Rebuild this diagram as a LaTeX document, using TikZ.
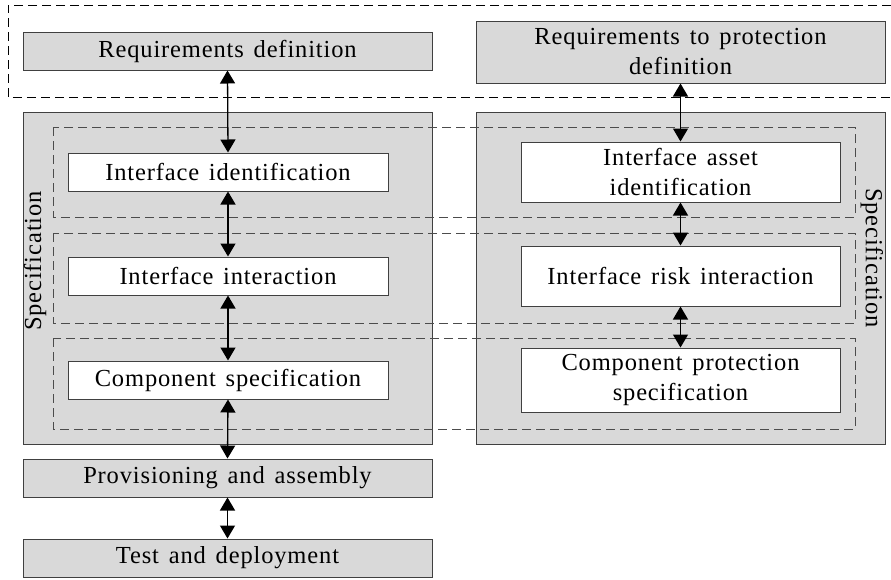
\documentclass[tikz,border=0pt]{standalone}
\usepackage{fontspec}
\setmainfont{Liberation Serif}[LetterSpace=3.5,WordSpace=1.4]
\usetikzlibrary{arrows.meta}
\definecolor{boxfill}{gray}{0.85}
\definecolor{edge}{gray}{0.25}
\definecolor{groupline}{gray}{0.3}
\begin{document}
\begin{tikzpicture}[x=1pt,y=-1pt,
  every node/.style={font=\fontsize{24.5}{30}\selectfont, inner sep=0pt, align=center},
  graybox/.style={draw=edge, line width=1pt, fill=boxfill, rectangle, minimum width=409pt},
  whitebox/.style={draw=edge, line width=1pt, fill=white, rectangle},
  group/.style={draw=groupline, line width=1pt, dash pattern=on 9pt off 5pt},
  outergroup/.style={draw=black, line width=1pt, dash pattern=on 9pt off 5pt},
  link/.style={draw=black, line width=1.3pt,
    {Triangle[length=13pt,width=15pt]}-{Triangle[length=13pt,width=15pt]}},
  sidelabel/.style={font=\fontsize{24.5}{30}\selectfont}]
\useasboundingbox (0,0) rectangle (891,579);

% gray process stages
\node[graybox, minimum height=38pt] (reqdef) at (227.5,51) {Requirements definition};
\node[graybox, minimum height=62pt] (reqprot) at (680.5,52) {Requirements to protection\\definition};
\node[graybox, minimum height=332pt] (specL) at (227.5,278) {};
\node[graybox, minimum height=332pt] (specR) at (680.5,278) {};
\node[graybox, minimum height=38pt] (prov) at (227.5,478) {Provisioning and assembly};
\node[graybox, minimum height=38pt] (test) at (227.5,558) {Test and deployment};

% dashed groupings
\draw[outergroup] (891,5) -- (8,5) -- (8,97) -- (891,97);
\draw[group] (53,127) rectangle (855,217);
\draw[group] (53,233) rectangle (855,323);
\draw[group] (53,338) rectangle (855,429);

% specification steps
\node[whitebox, minimum width=320pt, minimum height=38pt] (ifid) at (228,172) {Interface identification};
\node[whitebox, minimum width=320pt, minimum height=38pt] (ifint) at (228,276) {Interface interaction};
\node[whitebox, minimum width=320pt, minimum height=38pt] (compspec) at (228,380) {Component specification};
\node[whitebox, minimum width=319pt, minimum height=60pt] (assetid) at (680.5,172) {Interface asset\\identification};
\node[whitebox, minimum width=319pt, minimum height=60pt] (riskint) at (680.5,276) {Interface risk interaction};
\node[whitebox, minimum width=319pt, minimum height=64pt] (compprot) at (680.5,380) {Component protection\\specification};

% side labels
\node[sidelabel, rotate=90] (specLlabel) at (35,261) {Specification};
\node[sidelabel, rotate=-90] (specRlabel) at (872,258) {Specification};

% connectors
\draw[link] (reqdef.south) -- (ifid.north);
\draw[link] (ifid.south) -- (ifint.north);
\draw[link] (ifint.south) -- (compspec.north);
\draw[link] (compspec.south) -- (prov.north);
\draw[link] (prov.south) -- (test.north);
\draw[link] (reqprot.south) -- (assetid.north);
\draw[link] (assetid.south) -- (riskint.north);
\draw[link] (riskint.south) -- (compprot.north);
\end{tikzpicture}
\end{document}
